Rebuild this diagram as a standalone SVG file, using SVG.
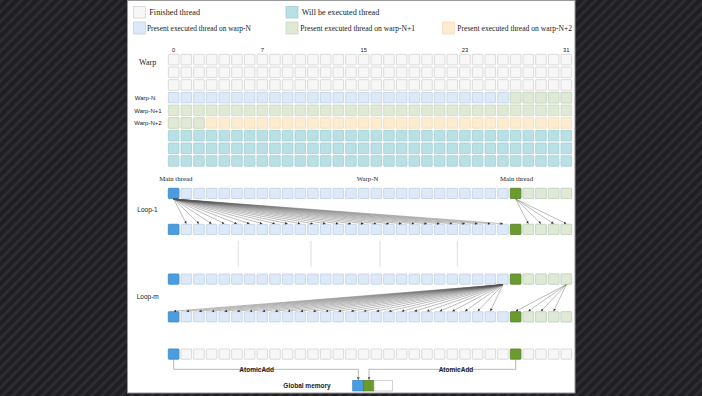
<svg xmlns="http://www.w3.org/2000/svg" width="702" height="396" viewBox="0 0 702 396">
<style>
.fin{fill:#f7f7f7;stroke:#cdcdcd;stroke-width:.7}
.cur{fill:#dde9f8;stroke:#b9cbe0;stroke-width:.7}
.n1{fill:#dfe9d6;stroke:#c3d4b8;stroke-width:.7}
.n2{fill:#fdecd0;stroke:#eed8b3;stroke-width:.7}
.wil{fill:#b9e0e4;stroke:#9ccace;stroke-width:.7}
.mb{fill:#4a9de0;stroke:#3a86c6;stroke-width:.7}
.mg{fill:#6b9a2e;stroke:#587f22;stroke-width:.7}
.serif{font-family:"Liberation Serif","Times New Roman",serif;fill:#222}
.sans{font-family:"Liberation Sans",Arial,sans-serif;fill:#222}
.fan line{stroke:#555;stroke-width:.4;marker-end:url(#ah)}
.atom{fill:none;stroke:#888;stroke-width:.6;marker-end:url(#ah2)}
.gap{stroke:#c8c8c8;stroke-width:.6}
</style>
<defs>
<pattern id="bg" width="7" height="7" patternUnits="userSpaceOnUse" patternTransform="rotate(45)">
<rect width="7" height="7" fill="#1f1f23"/>
<rect width="3" height="7" fill="#2c2c31"/>
</pattern>
<rect id="c" width="10.6" height="10.6" rx="0.6"/>
<rect id="s" width="10.6" height="10.2" rx="0.6"/>
<g id="r">
<use href="#c" x="168.33"/><use href="#c" x="181"/><use href="#c" x="193.67"/><use href="#c" x="206.33"/><use href="#c" x="219"/><use href="#c" x="231.67"/><use href="#c" x="244.33"/><use href="#c" x="257"/><use href="#c" x="269.67"/><use href="#c" x="282.33"/><use href="#c" x="295"/><use href="#c" x="307.67"/><use href="#c" x="320.33"/><use href="#c" x="333"/><use href="#c" x="345.67"/><use href="#c" x="358.33"/><use href="#c" x="371"/><use href="#c" x="383.67"/><use href="#c" x="396.33"/><use href="#c" x="409"/><use href="#c" x="421.67"/><use href="#c" x="434.33"/><use href="#c" x="447"/><use href="#c" x="459.67"/><use href="#c" x="472.33"/><use href="#c" x="485"/><use href="#c" x="497.67"/><use href="#c" x="510.33"/><use href="#c" x="523"/><use href="#c" x="535.67"/><use href="#c" x="548.33"/><use href="#c" x="561"/>
</g>
<g id="rs">
<use href="#s" x="168.33"/><use href="#s" x="181"/><use href="#s" x="193.67"/><use href="#s" x="206.33"/><use href="#s" x="219"/><use href="#s" x="231.67"/><use href="#s" x="244.33"/><use href="#s" x="257"/><use href="#s" x="269.67"/><use href="#s" x="282.33"/><use href="#s" x="295"/><use href="#s" x="307.67"/><use href="#s" x="320.33"/><use href="#s" x="333"/><use href="#s" x="345.67"/><use href="#s" x="358.33"/><use href="#s" x="371"/><use href="#s" x="383.67"/><use href="#s" x="396.33"/><use href="#s" x="409"/><use href="#s" x="421.67"/><use href="#s" x="434.33"/><use href="#s" x="447"/><use href="#s" x="459.67"/><use href="#s" x="472.33"/><use href="#s" x="485"/><use href="#s" x="497.67"/><use href="#s" x="510.33"/><use href="#s" x="523"/><use href="#s" x="535.67"/><use href="#s" x="548.33"/><use href="#s" x="561"/>
</g>
<marker id="ah" viewBox="0 0 6 6" refX="6" refY="3" markerWidth="2.6" markerHeight="2.6" markerUnits="userSpaceOnUse" orient="auto"><path d="M0,0L6,3L0,6z" fill="#333"/></marker>
<marker id="ah2" viewBox="0 0 6 6" refX="6" refY="3" markerWidth="3" markerHeight="3" markerUnits="userSpaceOnUse" orient="auto"><path d="M0,0L6,3L0,6z" fill="#666"/></marker>
</defs>

<rect width="702" height="396" fill="url(#bg)"/>
<rect x="127.5" y="0.5" width="447.5" height="392.5" fill="#fff" stroke="#999" stroke-width="1"/>

<g id="legend">
<rect x="133.3" y="6.5" width="12" height="11.5" class="fin"/>
<text x="149.3" y="15" class="serif" font-size="8.2">Finished thread</text>
<rect x="286" y="6.5" width="12" height="11.5" class="wil"/>
<text x="301.7" y="15" class="serif" font-size="8.2">Will be executed thread</text>
<rect x="133.3" y="22" width="12" height="12" class="cur"/>
<text x="147" y="31" class="serif" font-size="7.4">Present executed thread on warp-N</text>
<rect x="286" y="22" width="12" height="12" class="n1"/>
<text x="300.3" y="31" class="serif" font-size="7.6">Present executed thread on warp-N+1</text>
<rect x="442.3" y="22" width="12" height="12" class="n2"/>
<text x="457.3" y="31" class="serif" font-size="7.6">Present executed thread on warp-N+2</text>
</g>

<g id="warp-labels">
<g class="sans" font-size="5.8" text-anchor="middle">
<text x="173.67" y="52.3">0</text>
<text x="262.33" y="52.3">7</text>
<text x="363.67" y="52.3">15</text>
<text x="465" y="52.3">23</text>
<text x="566.33" y="52.3">31</text>
</g>
<text x="139" y="65" class="serif" font-size="8">Warp</text>
<g class="sans" font-size="6">
<text x="134.8" y="99.5">Warp-N</text>
<text x="134.3" y="112.6">Warp-N+1</text>
<text x="134.3" y="125.3">Warp-N+2</text>
</g>
</g>

<g id="warp-finished">
<use href="#r" y="54.33" class="fin"/>
<use href="#r" y="67" class="fin"/>
<use href="#r" y="79.67" class="fin"/>
</g>
<g id="warp-n">
<use href="#r" y="92.33" class="cur"/>
<use href="#c" x="510.33" y="92.33" class="n1"/><use href="#c" x="523" y="92.33" class="n1"/><use href="#c" x="535.67" y="92.33" class="n1"/><use href="#c" x="548.33" y="92.33" class="n1"/><use href="#c" x="561" y="92.33" class="n1"/>
</g>
<g id="warp-n1">
<use href="#r" y="105" class="n1"/>
</g>
<g id="warp-n2">
<use href="#r" y="117.67" class="n2"/>
<use href="#c" x="168.33" y="117.67" class="n1"/><use href="#c" x="181" y="117.67" class="n1"/><use href="#c" x="193.67" y="117.67" class="n1"/>
</g>
<g id="warp-will">
<use href="#r" y="130.33" class="wil"/>
<use href="#r" y="143" class="wil"/>
<use href="#r" y="155.67" class="wil"/>
</g>

<g id="lower-labels">
<g class="serif" font-size="6.8">
<text x="159.3" y="181.2">Main thread</text>
<text x="356.7" y="181.2">Warp-N</text>
<text x="500" y="181.2">Main thread</text>
</g>
<g class="sans" font-size="6.5">
<text x="137.3" y="211.6">Loop-1</text>
<text x="136.7" y="299">Loop-m</text>
</g>
</g>

<g id="loop1-before">
<use href="#rs" y="188.3" class="cur"/>
<use href="#s" x="168.33" y="188.3" class="mb"/><use href="#s" x="510.33" y="188.3" class="mg"/>
<use href="#s" x="523" y="188.3" class="n1"/><use href="#s" x="535.67" y="188.3" class="n1"/><use href="#s" x="548.33" y="188.3" class="n1"/><use href="#s" x="561" y="188.3" class="n1"/>
</g>
<g id="loop1-after">
<use href="#rs" y="224.3" class="cur"/>
<use href="#s" x="168.33" y="224.3" class="mb"/><use href="#s" x="510.33" y="224.3" class="mg"/>
<use href="#s" x="523" y="224.3" class="n1"/><use href="#s" x="535.67" y="224.3" class="n1"/><use href="#s" x="548.33" y="224.3" class="n1"/><use href="#s" x="561" y="224.3" class="n1"/>
</g>
<g id="loopm-before">
<use href="#rs" y="274" class="cur"/>
<use href="#s" x="168.33" y="274" class="mb"/><use href="#s" x="510.33" y="274" class="mg"/>
<use href="#s" x="523" y="274" class="n1"/><use href="#s" x="535.67" y="274" class="n1"/><use href="#s" x="548.33" y="274" class="n1"/><use href="#s" x="561" y="274" class="n1"/>
</g>
<g id="loopm-after">
<use href="#rs" y="311.7" class="cur"/>
<use href="#s" x="168.33" y="311.7" class="mb"/><use href="#s" x="510.33" y="311.7" class="mg"/>
<use href="#s" x="523" y="311.7" class="n1"/><use href="#s" x="535.67" y="311.7" class="n1"/><use href="#s" x="548.33" y="311.7" class="n1"/><use href="#s" x="561" y="311.7" class="n1"/>
</g>
<g id="final-row">
<use href="#rs" y="349" class="fin"/>
<use href="#s" x="168.33" y="349" class="mb"/><use href="#s" x="510.33" y="349" class="mg"/>
</g>

<g id="global-memory">
<rect x="352.7" y="380.3" width="10.6" height="10.7" class="mb"/>
<rect x="363.3" y="380.3" width="10.7" height="10.7" class="mg"/>
<rect x="374" y="380.3" width="18.3" height="10.7" fill="#fff" stroke="#bbb" stroke-width=".7"/>
<text x="307" y="388.3" class="sans" font-size="6.5" font-weight="bold" text-anchor="middle">Global  memory</text>
</g>

<g id="connectors">
<g class="gap">
<line x1="238.3" y1="241" x2="238.3" y2="266.5"/>
<line x1="311" y1="241" x2="311" y2="266.5"/>
<line x1="380" y1="241" x2="380" y2="266.5"/>
<line x1="457.3" y1="241" x2="457.3" y2="266.5"/>
</g>
<g class="fan">
<line x1="173.67" y1="199" x2="186.33" y2="223.7"/>
<line x1="173.67" y1="199" x2="199" y2="223.7"/>
<line x1="173.67" y1="199" x2="211.67" y2="223.7"/>
<line x1="173.67" y1="199" x2="224.33" y2="223.7"/>
<line x1="173.67" y1="199" x2="237" y2="223.7"/>
<line x1="173.67" y1="199" x2="249.67" y2="223.7"/>
<line x1="173.67" y1="199" x2="262.33" y2="223.7"/>
<line x1="173.67" y1="199" x2="275" y2="223.7"/>
<line x1="173.67" y1="199" x2="287.67" y2="223.7"/>
<line x1="173.67" y1="199" x2="300.33" y2="223.7"/>
<line x1="173.67" y1="199" x2="313" y2="223.7"/>
<line x1="173.67" y1="199" x2="325.67" y2="223.7"/>
<line x1="173.67" y1="199" x2="338.33" y2="223.7"/>
<line x1="173.67" y1="199" x2="351" y2="223.7"/>
<line x1="173.67" y1="199" x2="363.67" y2="223.7"/>
<line x1="173.67" y1="199" x2="376.33" y2="223.7"/>
<line x1="173.67" y1="199" x2="389" y2="223.7"/>
<line x1="173.67" y1="199" x2="401.67" y2="223.7"/>
<line x1="173.67" y1="199" x2="414.33" y2="223.7"/>
<line x1="173.67" y1="199" x2="427" y2="223.7"/>
<line x1="173.67" y1="199" x2="439.67" y2="223.7"/>
<line x1="173.67" y1="199" x2="452.33" y2="223.7"/>
<line x1="173.67" y1="199" x2="465" y2="223.7"/>
<line x1="173.67" y1="199" x2="477.67" y2="223.7"/>
<line x1="173.67" y1="199" x2="490.33" y2="223.7"/>
<line x1="173.67" y1="199" x2="503" y2="223.7"/>
<line x1="515.67" y1="199" x2="528.33" y2="223.7"/>
<line x1="515.67" y1="199" x2="541" y2="223.7"/>
<line x1="515.67" y1="199" x2="553.67" y2="223.7"/>
<line x1="515.67" y1="199" x2="566.33" y2="223.7"/>

<line x1="503" y1="284.6" x2="173.67" y2="311.2"/>
<line x1="503" y1="284.6" x2="186.33" y2="311.2"/>
<line x1="503" y1="284.6" x2="199" y2="311.2"/>
<line x1="503" y1="284.6" x2="211.67" y2="311.2"/>
<line x1="503" y1="284.6" x2="224.33" y2="311.2"/>
<line x1="503" y1="284.6" x2="237" y2="311.2"/>
<line x1="503" y1="284.6" x2="249.67" y2="311.2"/>
<line x1="503" y1="284.6" x2="262.33" y2="311.2"/>
<line x1="503" y1="284.6" x2="275" y2="311.2"/>
<line x1="503" y1="284.6" x2="287.67" y2="311.2"/>
<line x1="503" y1="284.6" x2="300.33" y2="311.2"/>
<line x1="503" y1="284.6" x2="313" y2="311.2"/>
<line x1="503" y1="284.6" x2="325.67" y2="311.2"/>
<line x1="503" y1="284.6" x2="338.33" y2="311.2"/>
<line x1="503" y1="284.6" x2="351" y2="311.2"/>
<line x1="503" y1="284.6" x2="363.67" y2="311.2"/>
<line x1="503" y1="284.6" x2="376.33" y2="311.2"/>
<line x1="503" y1="284.6" x2="389" y2="311.2"/>
<line x1="503" y1="284.6" x2="401.67" y2="311.2"/>
<line x1="503" y1="284.6" x2="414.33" y2="311.2"/>
<line x1="503" y1="284.6" x2="427" y2="311.2"/>
<line x1="503" y1="284.6" x2="439.67" y2="311.2"/>
<line x1="503" y1="284.6" x2="452.33" y2="311.2"/>
<line x1="503" y1="284.6" x2="465" y2="311.2"/>
<line x1="503" y1="284.6" x2="477.67" y2="311.2"/>
<line x1="503" y1="284.6" x2="490.33" y2="311.2"/>
<line x1="566.33" y1="284.6" x2="515.67" y2="311.2"/>
<line x1="566.33" y1="284.6" x2="528.33" y2="311.2"/>
<line x1="566.33" y1="284.6" x2="541" y2="311.2"/>
<line x1="566.33" y1="284.6" x2="553.67" y2="311.2"/>
</g>
<polyline class="atom" points="173.67,359.4 173.67,369.3 358.3,369.3 358.3,380"/>
<polyline class="atom" points="515.67,359.4 515.67,369.3 369,369.3 369,380"/>
<g class="sans" font-size="6.5" font-weight="bold" text-anchor="middle">
<text x="256.7" y="371.6">AtomicAdd</text>
<text x="456" y="371.6">AtomicAdd</text>
</g>
</g>
</svg>
